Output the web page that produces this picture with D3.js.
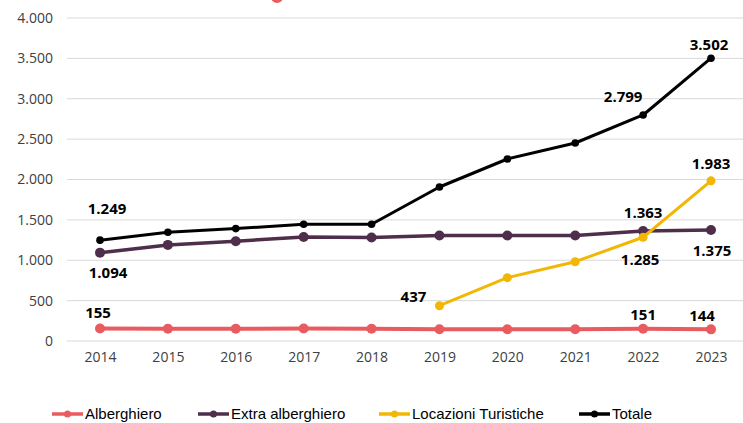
<!DOCTYPE html>
<html>
<head>
<meta charset="utf-8">
<script src="https://cdn.jsdelivr.net/npm/d3@7"></script>
<style>
  body { margin: 0; background: #fff; }
  svg { display: block; }
</style>
</head>
<body>
<div id="chart"></div>
<script>
const years = ["2014","2015","2016","2017","2018","2019","2020","2021","2022","2023"];
const alberghiero = [155, 152, 152, 154, 151, 146, 146, 146, 151, 144];
const extraAlberghiero = [1094, 1190, 1236, 1288, 1282, 1306, 1306, 1306, 1363, 1375];
const locazioni = [null, null, null, null, null, 437, 784, 982, 1285, 1983];
const totale = [1249, 1346, 1392, 1446, 1446, 1907, 2254, 2452, 2799, 3502];
const yTicks = [0, 500, 1000, 1500, 2000, 2500, 3000, 3500, 4000];

const series = [
  { name: "Alberghiero", values: alberghiero, color: "#e95b5f", width: 4, r: 5 },
  { name: "Extra alberghiero", values: extraAlberghiero, color: "#4e2e4a", width: 3.5, r: 5 },
  { name: "Locazioni Turistiche", values: locazioni, color: "#f2b705", width: 3, r: 4.5 },
  { name: "Totale", values: totale, color: "#000000", width: 3, r: 3.8 }
];

// which points get a value label, and where (dx, dy from the point)
const labels = [
  { s: 0, i: 0, dx: -2, dy: -16 },
  { s: 0, i: 8, dx: 0, dy: -14 },
  { s: 0, i: 9, dx: -9, dy: -14 },
  { s: 1, i: 0, dx: 8, dy: 20 },
  { s: 1, i: 8, dx: 0, dy: -18 },
  { s: 1, i: 9, dx: 1, dy: 21 },
  { s: 2, i: 5, dx: -26, dy: -9 },
  { s: 2, i: 8, dx: -3, dy: 23 },
  { s: 2, i: 9, dx: 0, dy: -17 },
  { s: 3, i: 0, dx: 7, dy: -31 },
  { s: 3, i: 8, dx: -20, dy: -18 },
  { s: 3, i: 9, dx: -2, dy: -13 }
];

const width = 743, height = 423;
const fmt = v => d3.format(",")(v).replace(/,/g, ".");

const svg = d3.select("#chart").append("svg")
  .attr("width", width)
  .attr("height", height);

const x = d3.scalePoint().domain(years).range([100, 711]);
const y = d3.scaleLinear().domain([0, 4000]).range([341, 18]);

// stray bit of the title, cut off at the top
svg.append("circle").attr("cx", 277).attr("cy", -3).attr("r", 6).attr("fill", "#e95b5f");

// gridlines
svg.append("g")
  .selectAll("line")
  .data(yTicks)
  .join("line")
  .attr("x1", 67).attr("x2", width)
  .attr("y1", d => y(d)).attr("y2", d => y(d))
  .attr("stroke", "#d9d9d9")
  .attr("stroke-width", 1);

// y axis labels
const yAxis = svg.append("g")
  .attr("transform", "translate(53,0)")
  .call(d3.axisLeft(y).tickValues(yTicks).tickFormat(fmt).tickSize(0).tickPadding(0));
yAxis.select(".domain").remove();
yAxis.selectAll("text")
  .attr("font-family", "Open Sans, sans-serif")
  .attr("font-size", 14)
  .attr("fill", "#404040");

// x axis labels
const xAxis = svg.append("g")
  .attr("transform", "translate(0,352)")
  .call(d3.axisBottom(x).tickSize(0).tickPadding(0));
xAxis.select(".domain").remove();
xAxis.selectAll("text")
  .attr("font-family", "Open Sans, sans-serif")
  .attr("font-size", 14)
  .attr("fill", "#404040");

const line = d3.line()
  .defined(d => d != null)
  .x((d, i) => x(years[i]))
  .y(d => y(d));

series.forEach(s => {
  svg.append("path")
    .datum(s.values)
    .attr("fill", "none")
    .attr("stroke", s.color)
    .attr("stroke-width", s.width)
    .attr("stroke-linejoin", "round")
    .attr("d", line);

  svg.append("g")
    .selectAll("circle")
    .data(s.values.map((v, i) => ({ v, i })).filter(d => d.v != null))
    .join("circle")
    .attr("cx", d => x(years[d.i]))
    .attr("cy", d => y(d.v))
    .attr("r", s.r)
    .attr("fill", s.color);
});

svg.append("g")
  .selectAll("text")
  .data(labels)
  .join("text")
  .attr("x", d => x(years[d.i]) + d.dx)
  .attr("y", d => y(series[d.s].values[d.i]) + d.dy)
  .attr("dy", "0.35em")
  .attr("text-anchor", "middle")
  .attr("font-family", "Open Sans, sans-serif")
  .attr("font-weight", "bold")
  .attr("font-size", 15)
  .attr("fill", "#000")
  .text(d => fmt(series[d.s].values[d.i]));

// legend
const legendX = [52, 198, 379, 579];
const legend = svg.append("g")
  .selectAll("g")
  .data(series)
  .join("g")
  .attr("transform", (d, i) => `translate(${legendX[i]},414)`);

legend.append("line")
  .attr("x1", 0).attr("x2", 31)
  .attr("stroke", d => d.color)
  .attr("stroke-width", 3.5);
legend.append("circle")
  .attr("cx", 15.5).attr("r", 3.5)
  .attr("fill", d => d.color);
legend.append("text")
  .attr("x", 33)
  .attr("dy", "0.35em")
  .attr("font-family", "Liberation Sans Narrow, Arial Narrow, sans-serif")
  .attr("font-size", 15)
  .attr("fill", "#000")
  .text(d => d.name);
</script>
</body>
</html>
